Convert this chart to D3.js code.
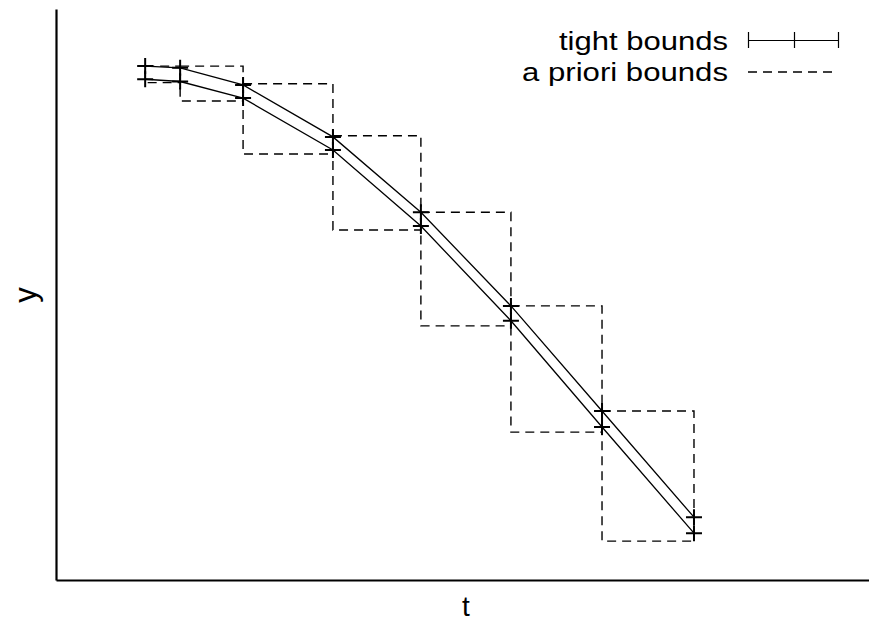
<!DOCTYPE html>
<html>
<head>
<meta charset="utf-8">
<script src="https://cdn.jsdelivr.net/npm/d3@7"></script>
<style>
  body { margin: 0; background: #fff; }
  text { font-family: "Liberation Sans", Arial, sans-serif; fill: #000; }
</style>
</head>
<body>
<div id="chart"></div>
<script>
// time steps and bounds
const tValues = [0, 0.2, 0.56, 1.074, 1.577, 2.092, 2.613, 3.139];
const upperBound = [9.0, 8.97, 8.67, 7.76, 6.44, 4.80, 2.96, 1.10];
const lowerBound = [8.77, 8.73, 8.44, 7.53, 6.20, 4.54, 2.68, 0.82];
// a priori boxes, one per step [t_i, t_i+1]
const aprioriTop = [9.0, 9.0, 8.69, 7.78, 6.44, 4.80, 2.96];
const aprioriBottom = [8.71, 8.39, 7.46, 6.13, 4.45, 2.59, 0.68];
const legendLabels = ["tight bounds", "a priori bounds"];

const width = 869, height = 623;
const margin = { top: 9, right: 0, bottom: 43, left: 56 };

const x = d3.scaleLinear().domain([-0.51, 4.14]).range([margin.left, width - margin.right]);
const y = d3.scaleLinear().domain([0, 10]).range([height - margin.bottom, margin.top]);

const svg = d3.select("#chart").append("svg")
    .attr("width", width)
    .attr("height", height);

// axes: only the left and bottom border lines, no ticks
svg.append("g")
    .attr("transform", `translate(${margin.left},0)`)
    .call(d3.axisLeft(y).tickValues([]).tickSizeOuter(0))
    .select(".domain").attr("stroke-width", 2.2);

svg.append("g")
    .attr("transform", `translate(0,${height - margin.bottom})`)
    .call(d3.axisBottom(x).tickValues([]).tickSizeOuter(0))
    .select(".domain").attr("stroke-width", 2.2);

// a priori boxes
const dash = "9,6";
svg.append("g").selectAll("rect")
    .data(aprioriTop.map((top, i) => ({ t0: tValues[i], t1: tValues[i + 1], top, bottom: aprioriBottom[i] })))
    .join("rect")
    .attr("x", d => x(d.t0))
    .attr("y", d => y(d.top))
    .attr("width", d => x(d.t1) - x(d.t0))
    .attr("height", d => y(d.bottom) - y(d.top))
    .attr("fill", "none")
    .attr("stroke", "#000")
    .attr("stroke-width", 1.4)
    .attr("stroke-dasharray", dash);

// tight bounds lines
const line = d3.line().x(d => x(d[0])).y(d => y(d[1]));
[upperBound, lowerBound].forEach(series => {
  const pts = tValues.map((t, i) => [t, series[i]]);
  svg.append("path")
      .datum(pts)
      .attr("fill", "none")
      .attr("stroke", "#000")
      .attr("stroke-width", 1.3)
      .attr("d", line);

  // "+" markers
  const half = 8;
  svg.append("g").selectAll("path")
      .data(pts)
      .join("path")
      .attr("fill", "none")
      .attr("stroke", "#000")
      .attr("stroke-width", 2)
      .attr("d", d => {
        const px = x(d[0]), py = y(d[1]);
        return `M${px - half},${py}H${px + half}M${px},${py - half}V${py + half}`;
      });
});

// legend
const legend = svg.append("g");
legend.append("text")
    .attr("x", 728).attr("y", 50)
    .attr("text-anchor", "end")
    .attr("font-size", 26)
    .attr("textLength", 169)
    .attr("lengthAdjust", "spacingAndGlyphs")
    .text(legendLabels[0]);
legend.append("text")
    .attr("x", 728).attr("y", 81)
    .attr("text-anchor", "end")
    .attr("font-size", 26)
    .attr("textLength", 206)
    .attr("lengthAdjust", "spacingAndGlyphs")
    .text(legendLabels[1]);

legend.append("path")
    .attr("fill", "none")
    .attr("stroke", "#000")
    .attr("stroke-width", 1.2)
    .attr("d", "M748,40.5H838M748.5,32V48M838.5,32V48M794.5,32V48");
legend.append("line")
    .attr("x1", 748).attr("x2", 836)
    .attr("y1", 72).attr("y2", 72)
    .attr("stroke", "#000")
    .attr("stroke-width", 1.4)
    .attr("stroke-dasharray", dash);

// axis labels
svg.append("text")
    .attr("x", 466).attr("y", 616)
    .attr("text-anchor", "middle")
    .attr("font-size", 28)
    .text("t");

svg.append("text")
    .attr("transform", "translate(36,295) rotate(-90)")
    .attr("text-anchor", "middle")
    .attr("font-size", 31)
    .text("y");
</script>
</body>
</html>
